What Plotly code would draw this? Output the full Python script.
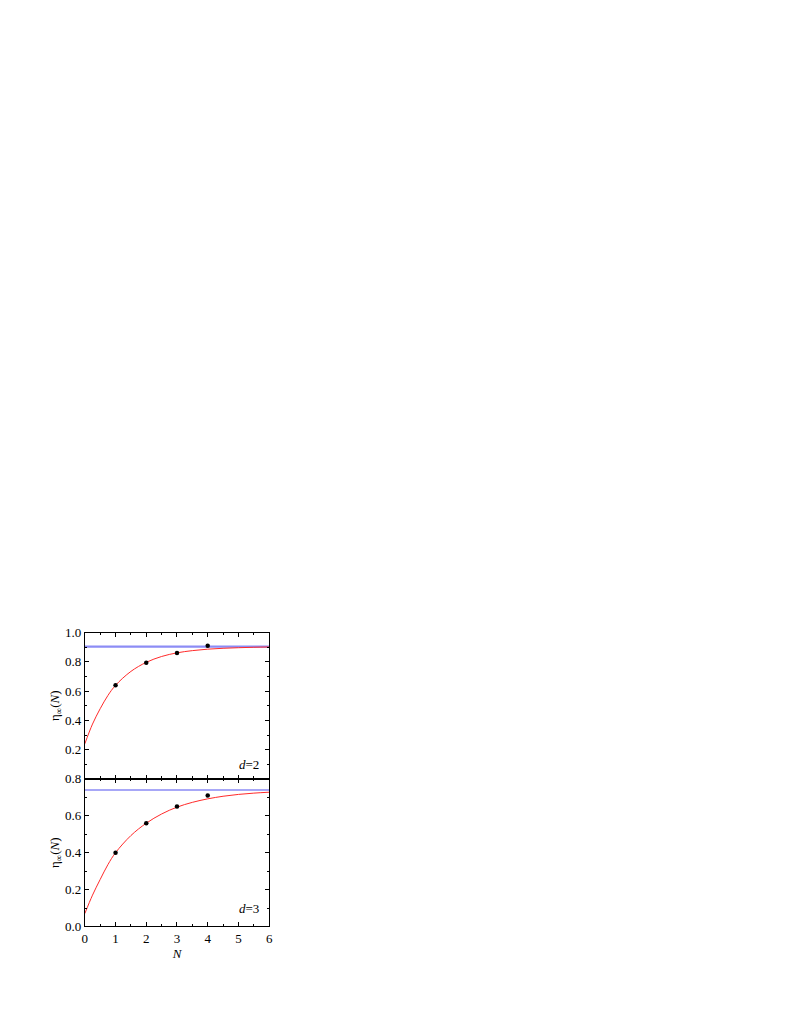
import plotly.graph_objects as go

# page body has an 8px margin; keep the figure inside the viewport
OFF = 8
W, H = 789 - 2 * OFF, 1021 - 2 * OFF

# ---- data ----
N_points = [1, 2, 3, 4]
eta_d2 = [0.64, 0.795, 0.86, 0.91]
eta_d3 = [0.40, 0.56, 0.65, 0.71]

N_fit = [0, 0.25, 0.5, 0.75, 1, 1.5, 2, 2.5, 3, 3.5, 4, 4.5, 5, 5.5, 6]
fit_d2 = [0.24, 0.375, 0.48, 0.57, 0.64, 0.735, 0.797, 0.837, 0.862, 0.877, 0.887, 0.893, 0.897, 0.900, 0.902]
fit_d3 = [0.07, 0.17, 0.255, 0.335, 0.40, 0.493, 0.56, 0.61, 0.647, 0.673, 0.692, 0.706, 0.716, 0.723, 0.728]

limit_x = [0, 6]
limit_d2 = [0.905, 0.905]
limit_d3 = [0.74, 0.74]

top_yticks = [0.2, 0.4, 0.6, 0.8, 1.0]
bot_yticks = [0.0, 0.2, 0.4, 0.6, 0.8]
xticks = [0, 1, 2, 3, 4, 5, 6]

FONT = "Liberation Serif"

# pixel layout helpers (reference page pixels -> paper fraction)
def px_x(v):
    return (v - OFF) / W

def px_y(v):
    return 1 - (v - OFF) / H

x_dom = [px_x(82.5), px_x(268.5)]
top_dom = [px_y(783.5), px_y(635)]
bot_dom = [px_y(933.3), px_y(783.5)]

fig = go.Figure()

# top panel
fig.add_trace(go.Scatter(x=limit_x, y=limit_d2, mode="lines",
                         line=dict(color="#8c8cf5", width=2.2), xaxis="x", yaxis="y", showlegend=False))
fig.add_trace(go.Scatter(x=N_fit, y=fit_d2, mode="lines", line=dict(color="#ff2a2a", width=1, shape="spline"),
                         xaxis="x", yaxis="y", showlegend=False))
fig.add_trace(go.Scatter(x=N_points, y=eta_d2, mode="markers", marker=dict(color="black", size=4.5),
                         xaxis="x", yaxis="y", showlegend=False))

# bottom panel
fig.add_trace(go.Scatter(x=limit_x, y=limit_d3, mode="lines",
                         line=dict(color="#5050f0", width=1.2), xaxis="x2", yaxis="y2", showlegend=False))
fig.add_trace(go.Scatter(x=N_fit, y=fit_d3, mode="lines", line=dict(color="#ff2a2a", width=1, shape="spline"),
                         xaxis="x2", yaxis="y2", showlegend=False))
fig.add_trace(go.Scatter(x=N_points, y=eta_d3, mode="markers", marker=dict(color="black", size=4.5),
                         xaxis="x2", yaxis="y2", showlegend=False))

axis_common = dict(showline=True, linecolor="black", linewidth=1, mirror="ticks",
                   ticks="inside", ticklen=4, tickwidth=1, tickcolor="black",
                   showgrid=False, zeroline=False,
                   tickfont=dict(family=FONT, size=13, color="black"))

title_font = dict(family=FONT, size=13, color="black")

fig.update_layout(
    width=W, height=H,
    margin=dict(l=0, r=0, t=0, b=0),
    paper_bgcolor="white", plot_bgcolor="white",
    xaxis=dict(domain=x_dom, anchor="y", range=[0, 6], tickvals=xticks, showticklabels=False,
               minor=dict(ticks="inside", dtick=0.5, ticklen=2.5, tickcolor="black"), **axis_common),
    yaxis=dict(domain=top_dom, anchor="x", range=[0, 1.0], tickvals=top_yticks, tickformat=".1f",
               minor=dict(ticks="inside", dtick=0.1, ticklen=2.5, tickcolor="black"),
               title=dict(text="η<sub>∞</sub>(<i>N</i>)", font=title_font, standoff=2),
               **axis_common),
    xaxis2=dict(domain=x_dom, anchor="y2", range=[0, 6], tickvals=xticks, showticklabels=True,
                minor=dict(ticks="inside", dtick=0.5, ticklen=2.5, tickcolor="black"),
                title=dict(text="<i>N</i>", font=title_font, standoff=0),
                **axis_common),
    yaxis2=dict(domain=bot_dom, anchor="x2", range=[0, 0.8], tickvals=bot_yticks, tickformat=".1f",
                minor=dict(ticks="inside", dtick=0.1, ticklen=2.5, tickcolor="black"),
                title=dict(text="η<sub>∞</sub>(<i>N</i>)", font=title_font, standoff=2),
                **axis_common),
    annotations=[
        dict(text="<i>d</i>=2", x=5.75, y=0.1, xref="x", yref="y", showarrow=False,
             xanchor="right", font=title_font),
        dict(text="<i>d</i>=3", x=5.75, y=0.1, xref="x2", yref="y2", showarrow=False,
             xanchor="right", font=title_font),
    ],
)

fig.write_html("out.html")
